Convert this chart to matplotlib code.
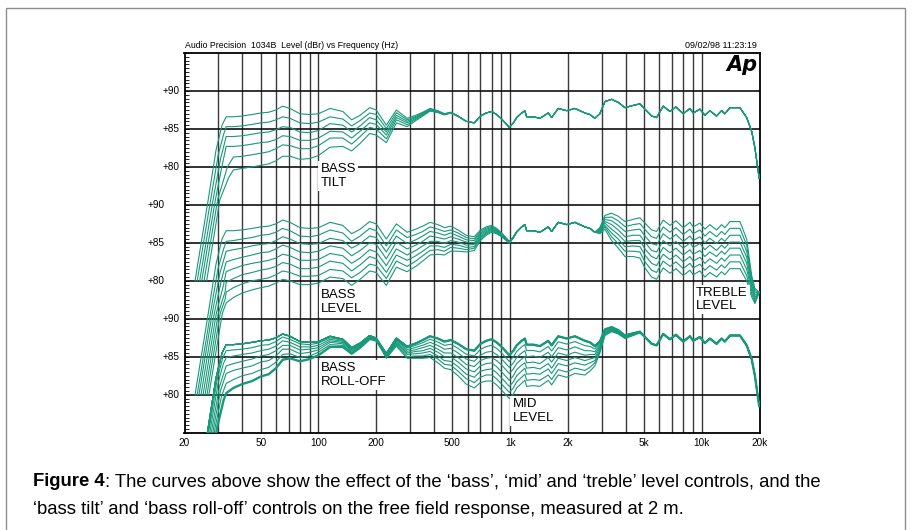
import matplotlib
matplotlib.use('Agg')
import matplotlib.pyplot as plt
from matplotlib.patches import Rectangle

plt.rcParams['font.family'] = ['Liberation Sans', 'DejaVu Sans']

# ---------------- data ----------------
freqs = [33, 36, 40, 45, 50, 55, 60, 65, 71, 80, 90, 100, 115, 134, 149, 165, 185, 200,
         226, 255, 290, 322, 350, 382, 420, 454, 490, 535, 590, 650,
         700, 750, 800, 850, 903, 950, 990, 1040, 1082, 1148, 1194, 1219, 1320, 1430,
         1580, 1646, 1782, 1972, 2178, 2456, 2608, 2768, 2939,
         3122, 3384, 3666, 3972, 4388, 4754, 5050, 5472, 5808, 6290, 6822, 7328, 8000,
         8670, 9016, 9774, 10376, 11016, 11940, 12680, 13184, 14030, 15814, 17140,
         18200, 18930, 19920]
base_db = [86.6, 86.6, 86.7, 86.9, 87.1, 87.2, 87.5, 88.0, 87.7, 87.0, 86.9, 87.0, 87.7, 87.3,
           86.2, 86.8, 87.8, 87.5, 85.5, 87.5, 86.4, 86.8, 87.2, 87.7, 87.4, 87.0, 87.2, 86.7,
           86.0, 85.8,
           86.7, 87.1, 87.3, 86.9, 86.3, 85.7, 85.2, 85.8, 86.5, 87.1, 87.4, 86.6, 86.6, 86.4,
           87.1, 86.5, 87.7, 87.4, 87.7, 87.1, 86.9, 86.4, 87.0,
           88.6, 88.9, 88.5, 87.8, 88.1, 88.3, 87.6, 86.7, 86.5, 88.0, 87.3, 87.9, 87.0,
           87.7, 87.1, 87.6, 86.8, 87.4, 86.7, 87.4, 87.0, 87.8, 87.8, 86.5,
           84.7, 82.5, 78.5]

# top group: bass tilt (6 sweeps)
tilt_rise_hz = [[22.7, 26.6, 29.2, 31.4], [23.3, 27.4, 30.0, 32.0], [24.0, 28.2, 30.8],
                [24.6, 29.0, 31.5], [25.3, 29.8, 33.5], [26.1, 30.6, 34.0]]
tilt_rise_db = [[65, 75.7, 82.2, 85.5], [65, 75.7, 81.6, 84.3], [65, 75.7, 81.0],
                [65, 75.7, 80.3], [65, 75.7, 80.0], [65, 75.7, 78.6]]
tilt_offsets = [
    [0.0],
    [-1.3, -1.3, -1.3, -1.3, -1.3, -1.3, -1.3, -1.4, -1.3, -1.2, -1.2, -1.1, -1.1, -1.0, -0.8,
     -0.7, -0.7, -0.6, -0.45, -0.35, -0.2, -0.15, -0.1, -0.07, -0.05, -0.03, -0.02],
    [-2.6, -2.6, -2.6, -2.6, -2.6, -2.6, -2.6, -2.7, -2.5, -2.4, -2.4, -2.2, -2.0, -1.8, -1.6,
     -1.4, -1.3, -1.3, -0.9, -0.7, -0.4, -0.27, -0.19, -0.13, -0.1, -0.06, -0.04, -0.02],
    [-3.9, -3.9, -3.9, -3.9, -3.9, -3.9, -3.9, -3.9, -3.7, -3.5, -3.4, -3.2, -3.0, -2.7, -2.4,
     -2.1, -2.0, -1.9, -1.3, -1.0, -0.6, -0.4, -0.28, -0.2, -0.14, -0.09, -0.06, -0.03],
    [-5.3, -5.3, -5.3, -5.3, -5.3, -5.2, -5.1, -5.1, -4.9, -4.6, -4.5, -4.2, -3.9, -3.5, -3.2,
     -2.8, -2.6, -2.5, -1.8, -1.3, -0.85, -0.54, -0.38, -0.27, -0.19, -0.12, -0.08, -0.04],
    [-6.9, -7.0, -6.9, -6.9, -6.9, -6.8, -6.7, -6.6, -6.3, -6.0, -5.8, -5.5, -5.1, -4.6, -4.1,
     -3.7, -3.4, -3.3, -2.3, -1.7, -1.1, -0.7, -0.5, -0.35, -0.25, -0.15, -0.1, -0.05],
]

# middle group: bass level (low end) and treble level (high end), 8 sweeps
level_rise_hz = [[22.7, 26.6, 29.2, 31.4], [23.3, 27.3, 29.9, 32.0], [23.8, 27.9, 30.6],
                 [24.4, 28.6, 31.3], [25.0, 29.3, 32.0], [25.6, 30.0, 32.6],
                 [26.2, 30.7, 32.6], [26.8, 31.5]]
level_rise_db = [[65, 75.7, 82.2, 85.5], [65, 75.7, 81.6, 84.2], [65, 75.7, 81.0],
                 [65, 75.7, 80.3], [65, 75.7, 79.5], [65, 75.7, 78.6],
                 [65, 75.7, 77.6], [65, 75.7]]
bass_offsets = [
    [0.0],
    [-1.4, -1.3, -1.2, -1.2, -1.1, -1.1, -1.1, -1.1, -1.1, -1.1, -1.1, -1.0, -1.0, -1.0, -1.0,
     -0.9, -0.9, -0.9, -0.9, -0.8, -0.7, -0.7, -0.7, -0.6, -0.6, -0.5, -0.5, -0.4, -0.3, -0.26,
     -0.2, -0.16, -0.13, -0.1, -0.07, -0.05, -0.04, -0.02, -0.01],
    [-2.7, -2.5, -2.4, -2.3, -2.3, -2.3, -2.2, -2.2, -2.2, -2.1, -2.1, -2.1, -2.1, -2.0, -1.9,
     -1.9, -1.9, -1.8, -1.7, -1.6, -1.5, -1.4, -1.3, -1.2, -1.1, -1.0, -0.9, -0.8, -0.6, -0.5,
     -0.4, -0.31, -0.26, -0.2, -0.14, -0.1, -0.07, -0.04, -0.03],
    [-4.1, -3.8, -3.6, -3.5, -3.4, -3.4, -3.3, -3.3, -3.3, -3.2, -3.2, -3.1, -3.1, -3.0, -2.9,
     -2.8, -2.8, -2.7, -2.6, -2.4, -2.2, -2.1, -2.0, -1.8, -1.7, -1.5, -1.4, -1.2, -0.9, -0.8,
     -0.6, -0.47, -0.39, -0.3, -0.21, -0.15, -0.11, -0.06, -0.04],
    [-5.4, -5.0, -4.7, -4.6, -4.6, -4.5, -4.5, -4.5, -4.4, -4.3, -4.2, -4.2, -4.1, -4.0, -3.9,
     -3.8, -3.7, -3.7, -3.5, -3.3, -3.0, -2.8, -2.6, -2.5, -2.2, -2.1, -1.9, -1.6, -1.3, -1.0,
     -0.8, -0.63, -0.51, -0.4, -0.29, -0.2, -0.14, -0.09, -0.06],
    [-6.8, -6.3, -5.9, -5.8, -5.7, -5.6, -5.6, -5.6, -5.5, -5.4, -5.3, -5.2, -5.1, -5.0, -4.9,
     -4.7, -4.6, -4.6, -4.4, -4.1, -3.7, -3.5, -3.3, -3.1, -2.8, -2.6, -2.4, -2.0, -1.6, -1.3,
     -1.0, -0.79, -0.64, -0.5, -0.36, -0.25, -0.18, -0.11, -0.07],
    [-8.1, -7.5, -7.1, -6.9, -6.9, -6.8, -6.7, -6.7, -6.6, -6.4, -6.3, -6.3, -6.2, -6.0, -5.8,
     -5.7, -5.6, -5.5, -5.2, -4.9, -4.5, -4.2, -3.9, -3.7, -3.3, -3.1, -2.8, -2.4, -1.9, -1.5,
     -1.2, -0.94, -0.77, -0.6, -0.43, -0.3, -0.21, -0.13, -0.09],
    [-9.5, -8.8, -8.3, -8.1, -8.0, -7.9, -7.8, -7.8, -7.7, -7.5, -7.4, -7.3, -7.2, -7.0, -6.8,
     -6.6, -6.5, -6.4, -6.1, -5.7, -5.2, -4.9, -4.6, -4.3, -3.9, -3.6, -3.3, -2.8, -2.2, -1.8,
     -1.4, -1.1, -0.9, -0.7, -0.5, -0.35, -0.25, -0.15, -0.1],
]
treble_start = 2768   # first frequency of the treble offsets
treble_offsets = [
    [0, 0, 0, 0, 0, 0, 0, 0, 0, 0, 0, 0, 0, 0, 0, 0, 0, 0, 0, 0, 0, 0, 0, 0, 0, -1.0, -4.0, -3.5],
    [0, -0.1, -0.26, -0.5, -0.6, -0.66, -0.7, -0.76, -0.84, -0.89, -0.9, -0.9, -0.9, -0.9, -0.9,
     -0.9, -0.9, -0.9, -0.9, -0.9, -0.89, -0.89, -0.89, -0.89, -0.89, -1.8, -4.4, -3.8],
    [0, -0.23, -0.51, -1.0, -1.2, -1.3, -1.4, -1.5, -1.7, -1.8, -1.8, -1.8, -1.8, -1.8, -1.8,
     -1.8, -1.8, -1.8, -1.8, -1.8, -1.8, -1.8, -1.8, -1.8, -1.8, -2.6, -4.8, -4.1],
    [0, -0.34, -0.77, -1.5, -1.8, -2.0, -2.1, -2.3, -2.5, -2.7, -2.7, -2.7, -2.7, -2.7, -2.7,
     -2.7, -2.7, -2.7, -2.7, -2.7, -2.7, -2.7, -2.7, -2.7, -2.7, -3.4, -5.2, -4.4],
    [0, -0.46, -1.0, -2.1, -2.4, -2.6, -2.8, -3.0, -3.4, -3.5, -3.6, -3.6, -3.6, -3.6, -3.6,
     -3.6, -3.6, -3.6, -3.6, -3.6, -3.5, -3.5, -3.5, -3.5, -3.5, -4.2, -5.6, -4.7],
    [0, -0.57, -1.3, -2.6, -3.0, -3.3, -3.5, -3.8, -4.2, -4.4, -4.5, -4.5, -4.5, -4.5, -4.5,
     -4.5, -4.5, -4.5, -4.5, -4.5, -4.4, -4.4, -4.4, -4.4, -4.4, -5.0, -6.0, -5.0],
    [0, -0.69, -1.5, -3.1, -3.6, -3.9, -4.2, -4.5, -5.1, -5.3, -5.4, -5.4, -5.4, -5.4, -5.4,
     -5.4, -5.4, -5.4, -5.4, -5.4, -5.3, -5.3, -5.3, -5.3, -5.3, -5.8, -6.4, -5.3],
    [0, -0.8, -1.8, -3.6, -4.2, -4.6, -4.9, -5.3, -5.9, -6.2, -6.3, -6.3, -6.3, -6.3, -6.3,
     -6.3, -6.3, -6.3, -6.3, -6.3, -6.2, -6.2, -6.2, -6.2, -6.2, -6.5, -6.8, -5.5],
]

# bottom group: bass roll-off (7 sweeps, last one drawn heavy) and mid level (8 sweeps)
rolloff_rise_hz = [[22.7, 26.6, 29.2, 31.4], [23.1, 27.0, 29.6, 31.6], [23.5, 27.4, 30.0, 31.8],
                   [23.9, 27.9, 30.4], [24.3, 28.4, 30.8], [24.8, 28.9, 31.2], [25.5, 29.6, 32.0]]
rolloff_rise_db = [[65, 75.7, 82.2, 85.5], [65, 75.7, 82.0, 84.8], [65, 75.7, 81.6, 84.0],
                   [65, 75.7, 81.0], [65, 75.7, 80.5], [65, 75.7, 79.8], [65, 75.7, 79.3]]
rolloff_offsets = [
    [0.0],
    [-0.8, -0.7, -0.7, -0.7, -0.6, -0.6, -0.5, -0.4, -0.4, -0.3, -0.3, -0.2, -0.2, -0.13, -0.1,
     -0.08, -0.06, -0.05, -0.03, -0.02, -0.01],
    [-1.7, -1.5, -1.4, -1.4, -1.3, -1.2, -1.1, -0.9, -0.8, -0.7, -0.6, -0.5, -0.4, -0.27, -0.22,
     -0.16, -0.12, -0.09, -0.07, -0.04, -0.03, -0.01],
    [-2.8, -2.5, -2.3, -2.2, -2.0, -1.9, -1.7, -1.5, -1.2, -1.1, -0.9, -0.8, -0.6, -0.43, -0.34,
     -0.26, -0.19, -0.15, -0.11, -0.06, -0.04, -0.02],
    [-3.8, -3.4, -3.2, -3.1, -2.8, -2.7, -2.4, -2.0, -1.7, -1.6, -1.3, -1.1, -0.8, -0.6, -0.48,
     -0.36, -0.27, -0.21, -0.15, -0.09, -0.06, -0.03],
    [-5.1, -4.6, -4.2, -4.1, -3.8, -3.6, -3.2, -2.7, -2.3, -2.1, -1.8, -1.4, -1.1, -0.8, -0.64,
     -0.48, -0.36, -0.28, -0.2, -0.12, -0.08, -0.04],
    [-6.4, -5.7, -5.3, -5.1, -4.7, -4.5, -4.0, -3.4, -2.9, -2.6, -2.2, -1.8, -1.4, -1.0, -0.8,
     -0.6, -0.45, -0.35, -0.25, -0.15, -0.1, -0.05],
]
mid_start = 200   # first frequency of the mid offsets
mid_offsets = [
    [-0.04, -0.1, -0.16, -0.23, -0.29, -0.34, -0.4, -0.46, -0.5, -0.56, -0.6, -0.66, -0.7, -0.73,
     -0.76, -0.79, -0.8, -0.81, -0.81, -0.81, -0.81, -0.8, -0.8, -0.79, -0.79, -0.77, -0.76, -0.74,
     -0.74, -0.73, -0.73, -0.7, -0.64, -0.54, -0.37, -0.21, -0.11, -0.09, -0.07, -0.06, -0.04, -0.02],
    [-0.09, -0.2, -0.31, -0.46, -0.57, -0.69, -0.8, -0.91, -1.0, -1.1, -1.2, -1.3, -1.4, -1.5,
     -1.5, -1.6, -1.6, -1.6, -1.6, -1.6, -1.6, -1.6, -1.6, -1.6, -1.6, -1.5, -1.5, -1.5,
     -1.5, -1.5, -1.5, -1.4, -1.3, -1.1, -0.74, -0.43, -0.23, -0.17, -0.14, -0.11, -0.09, -0.04],
    [-0.13, -0.3, -0.47, -0.69, -0.86, -1.0, -1.2, -1.4, -1.5, -1.7, -1.8, -2.0, -2.1, -2.2,
     -2.3, -2.4, -2.4, -2.4, -2.4, -2.4, -2.4, -2.4, -2.4, -2.4, -2.4, -2.3, -2.3, -2.2,
     -2.2, -2.2, -2.2, -2.1, -1.9, -1.6, -1.1, -0.64, -0.34, -0.26, -0.21, -0.17, -0.13, -0.06],
    [-0.17, -0.4, -0.63, -0.91, -1.1, -1.4, -1.6, -1.8, -2.0, -2.2, -2.4, -2.6, -2.8, -2.9,
     -3.0, -3.1, -3.2, -3.3, -3.3, -3.3, -3.3, -3.2, -3.2, -3.2, -3.1, -3.0, -3.0, -3.0,
     -3.0, -2.9, -2.9, -2.8, -2.6, -2.2, -1.5, -0.86, -0.46, -0.34, -0.29, -0.23, -0.17, -0.09],
    [-0.21, -0.5, -0.79, -1.1, -1.4, -1.7, -2.0, -2.3, -2.5, -2.8, -3.0, -3.3, -3.5, -3.6,
     -3.8, -3.9, -4.0, -4.1, -4.1, -4.1, -4.1, -4.0, -4.0, -3.9, -3.9, -3.8, -3.7, -3.7,
     -3.7, -3.6, -3.6, -3.5, -3.2, -2.7, -1.9, -1.1, -0.57, -0.43, -0.36, -0.29, -0.21, -0.11],
    [-0.26, -0.6, -0.94, -1.4, -1.7, -2.1, -2.4, -2.7, -3.0, -3.3, -3.6, -3.9, -4.2, -4.4,
     -4.5, -4.7, -4.8, -4.9, -4.9, -4.9, -4.9, -4.8, -4.8, -4.7, -4.7, -4.6, -4.5, -4.5,
     -4.5, -4.4, -4.4, -4.2, -3.9, -3.3, -2.2, -1.3, -0.69, -0.51, -0.43, -0.34, -0.26, -0.13],
    [-0.3, -0.7, -1.1, -1.6, -2.0, -2.4, -2.8, -3.2, -3.5, -3.9, -4.2, -4.6, -4.9, -5.1,
     -5.3, -5.5, -5.6, -5.7, -5.7, -5.7, -5.7, -5.6, -5.6, -5.5, -5.5, -5.4, -5.3, -5.2,
     -5.2, -5.1, -5.1, -4.9, -4.5, -3.8, -2.6, -1.5, -0.8, -0.6, -0.5, -0.4, -0.3, -0.15],
]

level_ticks = [90, 85, 80]
group_shift = [45, 60, 75]            # top, middle, bottom groups
freq_ticks = [20, 50, 100, 200, 500, 1000, 2000, 5000, 10000, 20000]
freq_tick_labels = ['20', '50', '100', '200', '500', '1k', '2k', '5k', '10k', '20k']
grid_freqs = [30, 40, 50, 60, 70, 80, 90, 100, 200, 300, 400, 500, 600, 700, 800, 900,
              1000, 2000, 3000, 4000, 5000, 6000, 7000, 8000, 9000, 10000]

# ---------------- figure ----------------
W, H = 914, 530
fig = plt.figure(figsize=(W / 100, H / 100), dpi=100)
# outer frame
fig.patches.append(Rectangle((6 / W, -0.05), 899 / W, 1.05 - 8 / H, transform=fig.transFigure,
                             fill=False, edgecolor='#8c8c8c', lw=1.0))
L, R, T, B = 184.5, 759.5, 53.0, 432.7
ax = fig.add_axes([L / W, 1 - B / H, (R - L) / W, (B - T) / H])
ax.set_xscale('log')
ax.set_xlim(20, 20000)
ax.set_ylim(0, 50)

for gf in grid_freqs:
    ax.axvline(gf, color='#3a3a3a', lw=1.0, zorder=1)
for sh in group_shift:
    for lv in level_ticks:
        ax.axhline(lv - sh, color='#111111', lw=1.2, zorder=1)
for s in ax.spines.values():
    s.set_linewidth(1.3)
    s.set_color('black')

ax.set_xticks(freq_ticks)
ax.set_xticklabels(freq_tick_labels, fontsize=7.2)
ax.minorticks_off()
ax.set_yticks([])
ax.set_yticks([i * 0.5 for i in range(101)], minor=True)
ax.tick_params(axis='x', which='both', length=0, pad=4)
ax.tick_params(axis='y', which='minor', direction='in', length=3, width=0.6, left=True)

label_x = [-0.008, -0.034, -0.008]
for sh, lx in zip(group_shift, label_x):
    for lv in level_ticks:
        ax.text(lx, lv - sh, '+%d' % lv, transform=ax.get_yaxis_transform(),
                ha='right', va='center', fontsize=7.2)

COL = '#17997a'


def curves(rise_hz, rise_db, offs, extra=None, extra_start=None):
    out = []
    for i in range(len(rise_hz)):
        f = list(rise_hz[i])
        v = list(rise_db[i])
        o = offs[i]
        k0 = freqs.index(extra_start) if extra_start else 0
        for j, fr in enumerate(freqs):
            if fr <= rise_hz[i][-1]:
                continue
            val = base_db[j] + (o[j] if j < len(o) else 0.0)
            if extra is not None and j >= k0 and j - k0 < len(extra[i]):
                val += extra[i][j - k0]
            f.append(fr)
            v.append(val)
        out.append((f, v))
    return out


for f, v in curves(tilt_rise_hz, tilt_rise_db, tilt_offsets):
    ax.plot(f, [x - group_shift[0] for x in v], color=COL, lw=0.8, zorder=3)
for f, v in curves(level_rise_hz, level_rise_db, bass_offsets, treble_offsets, treble_start):
    ax.plot(f, [x - group_shift[1] for x in v], color=COL, lw=0.8, zorder=3)
ro = curves(rolloff_rise_hz, rolloff_rise_db, rolloff_offsets)
for i, (f, v) in enumerate(ro):
    ax.plot(f, [x - group_shift[2] for x in v], color=COL,
            lw=1.7 if i == len(ro) - 1 else 0.8, zorder=3)
mid_rise_hz = [rolloff_rise_hz[0]] * len(mid_offsets)
mid_rise_db = [rolloff_rise_db[0]] * len(mid_offsets)
for f, v in curves(mid_rise_hz, mid_rise_db, [[0.0]] * len(mid_offsets), mid_offsets, mid_start):
    ax.plot(f, [x - group_shift[2] for x in v], color=COL, lw=0.8, zorder=3)

# annotations
box = dict(facecolor='white', edgecolor='none', pad=1.5)


def px(x, y):
    return (x / W, 1 - y / H)


for txt, x, y in [('BASS\nTILT', 320.5, 176), ('BASS\nLEVEL', 321, 302),
                  ('BASS\nROLL-OFF', 321, 375), ('MID\nLEVEL', 512.5, 411),
                  ('TREBLE\nLEVEL', 696, 299.5)]:
    fig.text(*px(x, y), txt, ha='left', va='center', fontsize=9.5, linespacing=1.15,
             bbox=box, zorder=10)

# header
fig.text(*px(185, 45), 'Audio Precision  1034B  Level (dBr) vs Frequency (Hz)',
         ha='left', va='center', fontsize=6.3)
fig.text(*px(757, 45), '09/02/98 11:23:19', ha='right', va='center', fontsize=6.5)
fig.text(*px(757.5, 65), 'Ap', ha='right', va='center', fontsize=15, fontweight='heavy',
         fontstyle='italic', family='DejaVu Sans')

# caption
fig.canvas.draw()
rend = fig.canvas.get_renderer()
size = 12.0
t1 = fig.text(*px(33, 482), 'Figure 4', ha='left', va='center', fontsize=size,
              fontweight='bold')
rest1 = ': The curves above show the effect of the \u2018bass\u2019, \u2018mid\u2019 and \u2018treble\u2019 level controls, and the'
t2 = fig.text(0, 0, rest1, ha='left', va='center', fontsize=size)
w = t1.get_window_extent(rend).width + t2.get_window_extent(rend).width
size = size * 793.0 / w
t1.set_fontsize(size)
t2.set_fontsize(size)
w1 = t1.get_window_extent(rend).width
t2.set_position(((33 + w1) / W, 1 - 482 / H))
fig.text(*px(33, 509), '\u2018bass tilt\u2019 and \u2018bass roll-off\u2019 controls on the free field response, measured at 2 m.',
         ha='left', va='center', fontsize=size)

fig.savefig('out.png', dpi=100)
